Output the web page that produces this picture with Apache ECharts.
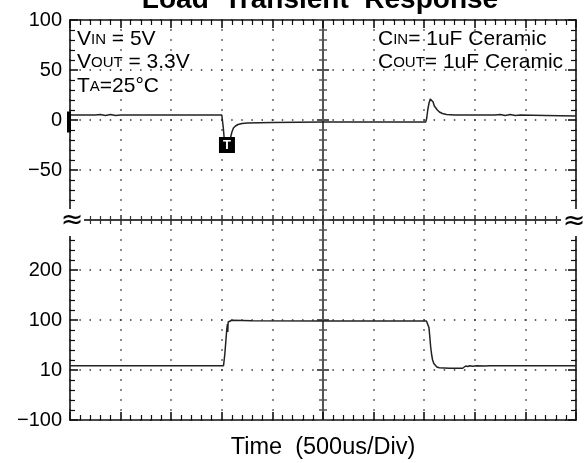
<!DOCTYPE html>
<html><head><meta charset="utf-8">
<script src="https://cdn.jsdelivr.net/npm/echarts@6/dist/echarts.min.js"></script>
<style>html,body{margin:0;padding:0;background:#fff}#c{width:584px;height:463px}</style>
</head><body><div id="c"></div>
<script>
// ---------------- data ----------------
const titleText = 'Load  Transient  Response';
const xAxisName = 'Time  (500us/Div)';
const timeMin = -2500, timeMax = 2500, timeDiv = 500;      // us, 500us/div
const topMin = -100, topMax = 100, topDiv = 50;            // mV
const bottomMin = -100, bottomMax = 300, bottomDiv = 100;  // mA
const topTickValues = [100, 50, 0, -50];
const topTickLabels = ['100', '50', '0', '−50'];
const bottomTickValues = [-100, 0, 100, 200];
const bottomTickLabels = ['−100', '10', '100', '200'];

// output voltage deviation (mV)
const voutTime = [-2500, -2250, -2200, -2150, -2100, -2050, -2000, -1500, -1000, -993, -985, -975, -962, -950, -938, -925, -912, -900, -885, -865, -840, -800, -750, -500, 0, 500, 1015, 1025, 1035, 1048, 1060, 1070, 1078, 1088, 1100, 1115, 1130, 1150, 1180, 1220, 1300, 1600, 1700, 1750, 1800, 1850, 1900, 1950, 2200, 2500];
const voutMv   = [5, 5, 5.5, 4.5, 5.5, 4.5, 5, 5, 5, 4, -8, -20, -28, -30, -28, -23, -17, -12, -8, -6, -4.5, -3.5, -3, -2.5, -2, -2, -2, 2, 10, 17, 21, 23, 21, 18, 14, 12, 10, 8, 6.5, 5.5, 5, 5, 5, 5.5, 4.5, 5.5, 4.5, 5, 4.5, 4];

// output current (mA)
const ioutTime = [-2500, -1500, -983, -978, -970, -960, -950, -944, -941, -937, -925, -900, -700, 0, 500, 1022, 1035, 1047, 1056, 1064, 1074, 1083, 1095, 1106, 1125, 1149, 1250, 1380, 1395, 1410, 1430, 1450, 1480, 1520, 1600, 1650, 2000, 2500];
const ioutMa   = [8.5, 8.5, 8.5, 12, 32, 58, 83, 92, 76, 96, 99, 99.5, 98.5, 98, 98, 98, 94, 85, 65, 46, 30, 20, 13, 9, 6, 4.5, 3.5, 3.5, 6, 8, 7, 8.5, 7.5, 8.5, 8, 8.5, 8.5, 8.5];

const triggerPoint = [-949, -25];   // "T" trigger marker
const groundMark = [-2500, -2];     // channel marker on left edge

// ---------------- styles ----------------
const FONT = '"Liberation Sans", Arial, sans-serif';
const frameLine = { color: '#111', width: 1.6 };
const centerLine = { color: '#555', width: 2 };
const dotH = { color: '#333', width: 1.5, type: [1.5, 8.62], dashOffset: 0.75 };
const dotV = { color: '#333', width: 1.5, type: [1.5, 8.5], dashOffset: 0.75 };

function zip(a, b) { return a.map((v, i) => [v, b[i]]); }

function xAx(grid, pos, o) {
  return Object.assign({
    type: 'value', gridIndex: grid, position: pos, min: timeMin, max: timeMax, interval: timeDiv,
    axisLine: { show: true, onZero: false, lineStyle: frameLine },
    axisTick: { show: true, inside: true, length: 8, lineStyle: frameLine },
    minorTick: { show: true, splitNumber: 5, length: 5, lineStyle: { color: '#111', width: 1.2 } },
    axisLabel: { show: false }, splitLine: { show: false }
  }, o || {});
}
function yAx(grid, pos, min, max, iv, o) {
  return Object.assign({
    type: 'value', gridIndex: grid, position: pos, min: min, max: max, interval: iv,
    axisLine: { show: true, onZero: false, lineStyle: frameLine },
    axisTick: { show: true, inside: true, length: 8, lineStyle: frameLine },
    minorTick: { show: true, splitNumber: 5, length: 5, lineStyle: { color: '#111', width: 1.2 } },
    axisLabel: { show: false }, splitLine: { show: false }
  }, o || {});
}
function centerY(grid, pos, min, max, iv) {
  return yAx(grid, pos, min, max, iv, {
    axisLine: { show: true, onZero: true, lineStyle: centerLine },
    axisTick: { show: true, inside: true, length: 6, lineStyle: centerLine },
    minorTick: { show: true, splitNumber: 5, length: 4, lineStyle: { color: '#555', width: 1.5 } }
  });
}
function labelFmt(vals, labs) {
  return function (v) { const i = vals.indexOf(v); return i < 0 ? '' : labs[i]; };
}
const labelStyle = { show: true, color: '#000', fontSize: 20, fontFamily: FONT, margin: 8 };
const breakTick = { show: true, inside: true, length: 5, lineStyle: { color: '#333', width: 1.5 } };
const breakMinor = { show: true, splitNumber: 5, length: 4, lineStyle: { color: '#333', width: 1.2 } };
const breakLine = { show: true, onZero: false, lineStyle: { color: '#333', width: 1.5 } };

function richLine(parts, x, y) {
  return {
    type: 'text', x: x, y: y, z: 100,
    style: {
      text: parts, align: 'left', verticalAlign: 'middle',
      rich: {
        b: { fontSize: 21, lineHeight: 24, fontFamily: FONT, fill: '#000', color: '#000' },
        s: { fontSize: 15, lineHeight: 19.8, fontFamily: FONT, fill: '#000', color: '#000' }
      }
    }
  };
}

const option = {
  animation: false,
  backgroundColor: '#fff',
  grid: [
    { left: 70, right: 8, top: 20, height: 200 },
    { left: 70, right: 8, top: 220, height: 200 }
  ],
  xAxis: [
    xAx(0, 'top', { splitLine: { show: true, lineStyle: dotV } }),
    xAx(0, 'bottom', { axisLine: breakLine, axisTick: breakTick, minorTick: breakMinor }),
    xAx(1, 'top', { axisLine: breakLine, axisTick: breakTick, minorTick: breakMinor }),
    xAx(1, 'bottom', {
      splitLine: { show: true, lineStyle: dotV },
      name: xAxisName, nameLocation: 'middle', nameGap: 16,
      nameTextStyle: { color: '#000', fontSize: 23.5, fontFamily: FONT }
    })
  ],
  yAxis: [
    yAx(0, 'left', topMin, topMax, topDiv, {
      axisLabel: Object.assign({}, labelStyle, { formatter: labelFmt(topTickValues, topTickLabels) }),
      splitLine: { show: true, lineStyle: dotH }
    }),
    yAx(0, 'right', topMin, topMax, topDiv),
    centerY(0, 'left', topMin, topMax, topDiv),
    centerY(0, 'right', topMin, topMax, topDiv),
    yAx(1, 'left', bottomMin, bottomMax, bottomDiv, {
      axisLabel: Object.assign({}, labelStyle, { formatter: labelFmt(bottomTickValues, bottomTickLabels) }),
      splitLine: { show: true, lineStyle: dotH }
    }),
    yAx(1, 'right', bottomMin, bottomMax, bottomDiv),
    centerY(1, 'left', bottomMin, bottomMax, bottomDiv),
    centerY(1, 'right', bottomMin, bottomMax, bottomDiv)
  ],
  series: [
    {
      type: 'line', xAxisIndex: 0, yAxisIndex: 0, data: zip(voutTime, voutMv),
      showSymbol: false, symbol: 'none', z: 5,
      lineStyle: { color: '#222', width: 1.5 },
      markPoint: {
        symbol: 'rect', label: { show: false }, z: 10,
        data: [
          { coord: triggerPoint, symbolSize: 16, itemStyle: { color: '#000' },
            label: { show: true, position: 'inside', formatter: 'T', color: '#fff', fontSize: 13, fontWeight: 'bold', fontFamily: FONT } },
          { coord: groundMark, symbolSize: [4, 21], symbolOffset: [-1, 0], itemStyle: { color: '#000' } }
        ]
      }
    },
    {
      type: 'line', xAxisIndex: 3, yAxisIndex: 4, data: zip(ioutTime, ioutMa),
      showSymbol: false, symbol: 'none', z: 5,
      lineStyle: { color: '#222', width: 1.5 }
    }
  ],
  graphic: [
    { type: 'rect', z: 100, shape: { x: 58, y: 209, width: 26, height: 27 }, style: { fill: '#fff' } },
    { type: 'rect', z: 100, shape: { x: 561, y: 209, width: 23, height: 27 }, style: { fill: '#fff' } },
    { type: 'text', z: 101, x: 72, y: 221, style: { text: '≈', font: '27px "DejaVu Sans"', fill: '#000', align: 'center', verticalAlign: 'middle' } },
    { type: 'text', z: 101, x: 574, y: 222, style: { text: '≈', font: '27px "DejaVu Sans"', fill: '#000', align: 'center', verticalAlign: 'middle' } },
    { type: 'text', z: 101, x: 320, y: 0.3, style: { text: titleText, font: 'bold 28px ' + FONT, fill: '#000', align: 'center', verticalAlign: 'middle' } },
    richLine('{b|V}{s|IN}{b| = 5V}', 77, 39.4),
    richLine('{b|V}{s|OUT}{b| = 3.3V}', 77, 62.7),
    richLine('{b|T}{s|A}{b|=25°C}', 77, 86.7),
    richLine('{b|C}{s|IN}{b|= 1uF Ceramic}', 378, 39.4),
    richLine('{b|C}{s|OUT}{b|= 1uF Ceramic}', 378, 62.7)
  ]
};

const chart = echarts.init(document.getElementById('c'), null, { renderer: 'canvas' });
chart.setOption(option);
</script>
</body></html>
